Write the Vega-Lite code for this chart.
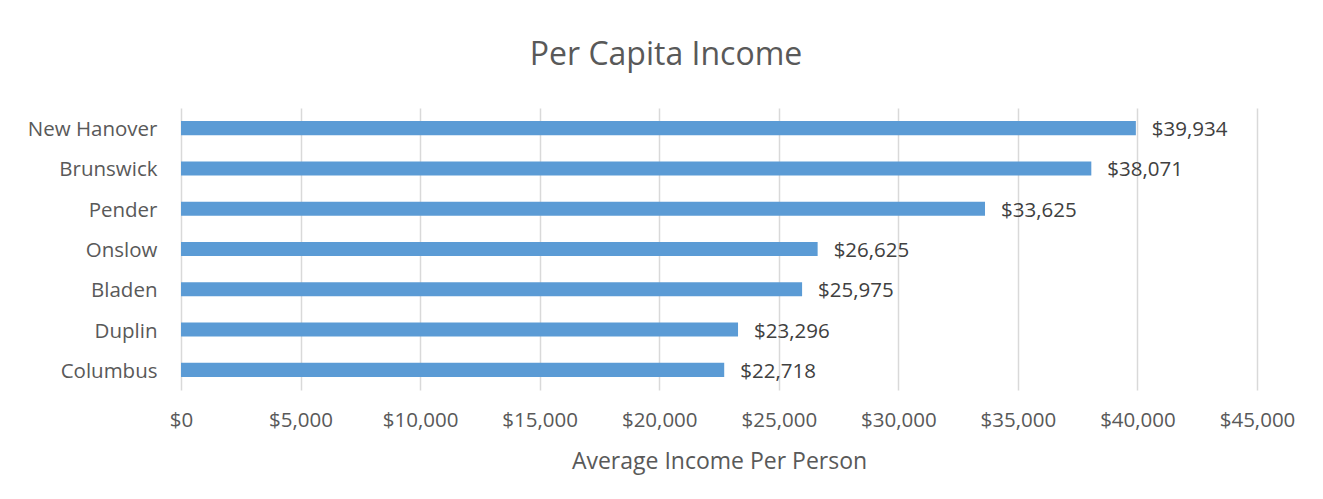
{
  "$schema": "https://vega.github.io/schema/vega-lite/v6.json",
  "autosize": {"type": "none"},
  "width": 1076,
  "height": 282,
  "padding": {"left": 181, "top": 108, "right": 66, "bottom": 109},
  "background": "white",
  "config": {"view": {"stroke": null}, "font": "Open Sans"},
  "title": {
    "text": "Per Capita Income",
    "fontSize": 32,
    "fontWeight": "normal",
    "color": "#595959",
    "anchor": "middle",
    "baseline": "alphabetic",
    "offset": 11,
    "dx": -53
  },
  "data": {
    "values": [
      {"county": "New Hanover", "income": 39934},
      {"county": "Brunswick", "income": 38071},
      {"county": "Pender", "income": 33625},
      {"county": "Onslow", "income": 26625},
      {"county": "Bladen", "income": 25975},
      {"county": "Duplin", "income": 23296},
      {"county": "Columbus", "income": 22718}
    ]
  },
  "encoding": {
    "y": {
      "field": "county",
      "type": "nominal",
      "sort": ["New Hanover", "Brunswick", "Pender", "Onslow", "Bladen", "Duplin", "Columbus"],
      "scale": {"paddingInner": 0.65, "paddingOuter": 0.325},
      "axis": {
        "title": null,
        "domain": false,
        "ticks": false,
        "grid": false,
        "labelFontSize": 20.5,
        "labelColor": "#595959",
        "labelPadding": 24,
        "labelOffset": 2
      }
    },
    "x": {
      "field": "income",
      "type": "quantitative",
      "scale": {"domain": [0, 45000], "nice": false},
      "axis": {
        "title": "Average Income Per Person",
        "titleFontSize": 23,
        "titleFontWeight": "normal",
        "titleColor": "#595959",
        "titlePadding": 20,
        "values": [0, 5000, 10000, 15000, 20000, 25000, 30000, 35000, 40000, 45000],
        "format": "$,.0f",
        "labelFlush": false,
        "labelOverlap": false,
        "domain": false,
        "ticks": false,
        "grid": true,
        "gridColor": "#d9d9d9",
        "gridWidth": 1.5,
        "labelFontSize": 20.5,
        "labelColor": "#595959",
        "labelPadding": 20
      }
    }
  },
  "layer": [
    {"mark": {"type": "bar", "color": "#5b9bd5"}},
    {
      "mark": {"type": "text", "align": "left", "baseline": "middle", "dx": 16, "dy": 2, "fontSize": 20.5, "color": "#404040"},
      "encoding": {"text": {"field": "income", "type": "quantitative", "format": "$,.0f"}}
    }
  ]
}
